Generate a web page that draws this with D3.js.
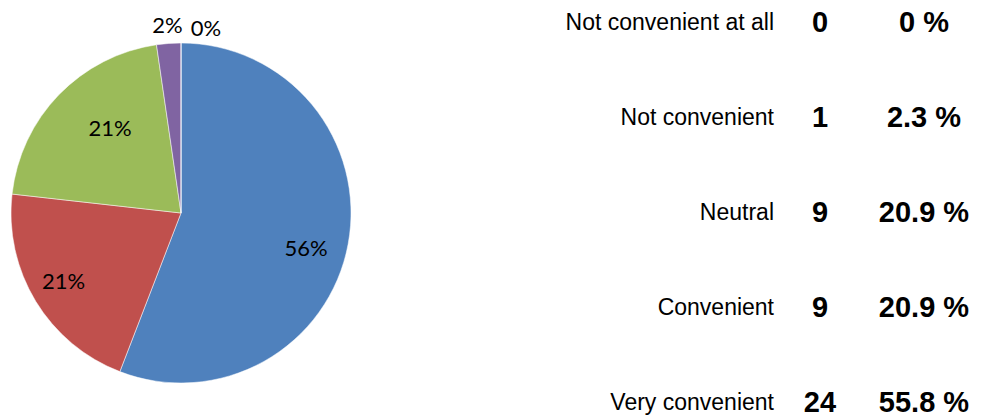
<!DOCTYPE html>
<html><head><meta charset="utf-8">
<script src="https://cdn.jsdelivr.net/npm/d3@7"></script>
<style>body{margin:0;background:#fff}</style>
</head><body>
<svg id="c" width="982" height="418"></svg>
<script>
const categories = ["Not convenient at all","Not convenient","Neutral","Convenient","Very convenient"];
const counts = [0,1,9,9,24];
const percents = [0,2.3,20.9,20.9,55.8];
const colors = ["#4BACC6","#8064A2","#9BBB59","#C0504D","#4F81BD"];
// label nudges (layout only), in pie order: Very convenient, Convenient, Neutral, Not convenient, Not convenient at all
const labelNudge = [[-2,11],[-7,0],[22,4],[0,0],[25,3]];

const svg = d3.select("#c");
const cx = 181, cy = 213, r = 170;
const data = categories.map((c,i)=>({cat:c,count:counts[i],pct:percents[i],color:colors[i]})).reverse();
const pie = d3.pie().value(d=>d.pct).sort(null);
const arcs = pie(data);
const arc = d3.arc().innerRadius(0).outerRadius(r);
const g = svg.append("g").attr("transform",`translate(${cx},${cy})`);
g.selectAll("path").data(arcs).enter().append("path")
  .attr("d",arc).attr("fill",d=>d.data.color).attr("stroke","#fff").attr("stroke-width",0.5);

const inner = d3.arc().innerRadius(r*0.76).outerRadius(r*0.76);
const outer = d3.arc().innerRadius(r*1.11).outerRadius(r*1.11);
g.selectAll("text").data(arcs).enter().append("text")
  .attr("transform",(d,i)=>{
    const p = d.data.pct < 5 ? outer.centroid(d) : inner.centroid(d);
    p[0] += labelNudge[i][0]; p[1] += labelNudge[i][1];
    return `translate(${p[0]},${p[1]})`;
  })
  .attr("text-anchor","middle").attr("dominant-baseline","central")
  .attr("font-family","Lato, 'Open Sans', sans-serif").attr("font-size",22).attr("fill","#000")
  .text(d=>Math.round(d.data.pct)+"%");

const y = d3.scalePoint().domain(categories).range([22,402]);
const rows = svg.append("g").attr("font-family","'Liberation Sans', Arial, sans-serif");
categories.forEach((c,i)=>{
  const yy = y(c);
  rows.append("text").attr("x",774).attr("y",yy).attr("text-anchor","end").attr("dominant-baseline","central")
    .attr("font-size",23).text(c);
  rows.append("text").attr("x",820).attr("y",yy).attr("text-anchor","middle").attr("dominant-baseline","central")
    .attr("font-size",29).attr("font-weight","bold").text(counts[i]);
  rows.append("text").attr("x",924).attr("y",yy).attr("text-anchor","middle").attr("dominant-baseline","central")
    .attr("font-size",29).attr("font-weight","bold").text(percents[i]+" %");
});
</script>
</body></html>
